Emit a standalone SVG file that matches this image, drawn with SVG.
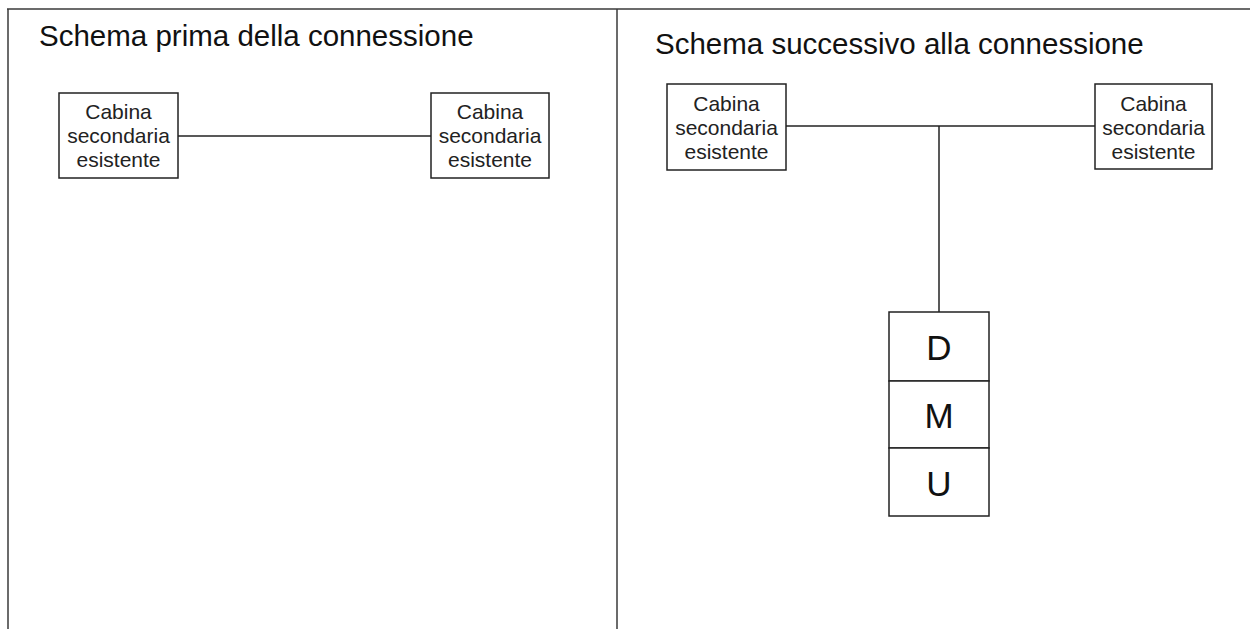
<svg xmlns="http://www.w3.org/2000/svg" width="1250" height="629" viewBox="0 0 1250 629">
<style>
.frame{stroke:#3a3a3a;stroke-width:1.5;fill:none}
.box{fill:#fff;stroke:#222;stroke-width:1.5}
.wire{stroke:#222;stroke-width:1.5;fill:none}
.title{font-family:"Liberation Sans",Arial,sans-serif;font-size:29.5px;fill:#111}
.lbl{font-family:"Liberation Sans",Arial,sans-serif;font-size:21px;fill:#222;text-anchor:middle}
.big{font-family:"Liberation Sans",Arial,sans-serif;font-size:35px;fill:#111;text-anchor:middle}
</style>
<rect width="1250" height="629" fill="#fff"/>
<g id="frame">
<line class="frame" x1="7" y1="9" x2="1250" y2="9"/>
<line class="frame" x1="8" y1="9" x2="8" y2="629"/>
<line class="frame" x1="617" y1="9" x2="617" y2="629"/>
</g>
<text class="title" x="39" y="46">Schema prima della connessione</text>
<text class="title" x="655" y="54">Schema successivo alla connessione</text>
<g id="connectors">
<line class="wire" x1="178" y1="136" x2="431" y2="136"/>
<line class="wire" x1="786" y1="126" x2="1095" y2="126"/>
<line class="wire" x1="939" y1="126" x2="939" y2="312"/>
</g>
<g id="left-cabina-1">
<rect class="box" x="59" y="93" width="119" height="85"/>
<text class="lbl" x="118.5" y="119">Cabina</text>
<text class="lbl" x="118.5" y="143">secondaria</text>
<text class="lbl" x="118.5" y="167">esistente</text>
</g>
<g id="left-cabina-2">
<rect class="box" x="431" y="93" width="118" height="85"/>
<text class="lbl" x="490" y="119">Cabina</text>
<text class="lbl" x="490" y="143">secondaria</text>
<text class="lbl" x="490" y="167">esistente</text>
</g>
<g id="right-cabina-1">
<rect class="box" x="667" y="84" width="119" height="86"/>
<text class="lbl" x="726.5" y="111">Cabina</text>
<text class="lbl" x="726.5" y="135">secondaria</text>
<text class="lbl" x="726.5" y="159">esistente</text>
</g>
<g id="right-cabina-2">
<rect class="box" x="1095" y="84" width="117" height="85"/>
<text class="lbl" x="1153.5" y="111">Cabina</text>
<text class="lbl" x="1153.5" y="135">secondaria</text>
<text class="lbl" x="1153.5" y="159">esistente</text>
</g>
<g id="dmu">
<rect class="box" x="889" y="312" width="100" height="69"/>
<rect class="box" x="889" y="381" width="100" height="67"/>
<rect class="box" x="889" y="448" width="100" height="68"/>
<text class="big" x="939" y="360">D</text>
<text class="big" x="939" y="428">M</text>
<text class="big" x="939" y="496">U</text>
</g>
</svg>
